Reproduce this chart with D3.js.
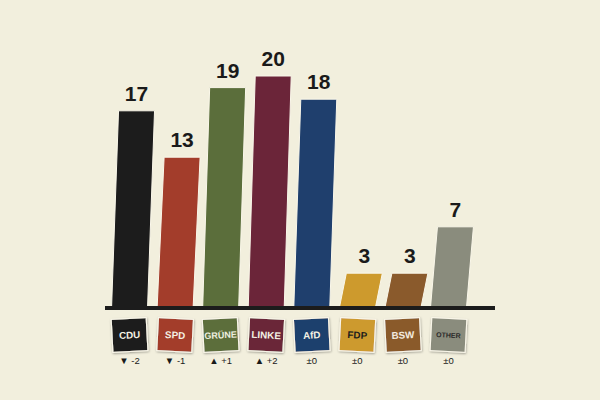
<!DOCTYPE html>
<html>
<head>
<meta charset="utf-8">
<script src="https://cdn.jsdelivr.net/npm/d3@7"></script>
<style>
  body { margin: 0; background: #f2efdd; }
  svg { display: block; }
</style>
</head>
<body>
<svg width="600" height="400"></svg>
<script>
// seats by party
var parties = ["CDU", "SPD", "GRÜNE", "LINKE", "AfD", "FDP", "BSW", "OTHER"];
var seats   = [17, 13, 19, 20, 18, 3, 3, 7];
var changes = ["▼ -2", "▼ -1", "▲ +1", "▲ +2", "±0", "±0", "±0", "±0"];
var colors  = ["#1c1c1c", "#a33d2b", "#5b6e3b", "#6b2539", "#1f3f6d", "#cd9a2d", "#8a5a2c", "#8a8c7d"];
var textColors = ["#f4f1e4", "#f4f1e4", "#eef0e0", "#f4f1e4", "#f4f1e4", "#1c1c1c", "#f4ece0", "#2a2a2a"];

var data = parties.map(function(p, i) {
  return { party: p, seats: seats[i], change: changes[i], color: colors[i], tc: textColors[i], i: i };
});

var svg = d3.select("svg");
var width = 600, height = 400;

svg.append("rect").attr("width", width).attr("height", height).attr("fill", "#f2efdd");

var x = d3.scaleBand().domain(parties).range([107, 471]).paddingInner(0.21).paddingOuter(0.1);
var y = d3.scaleLinear().domain([0, 20]).range([308, 76]);

var skew = 7; // tops lean to the right

var defs = svg.append("defs");
var f = defs.append("filter").attr("id", "shadow").attr("x", "-20%").attr("y", "-20%").attr("width", "140%").attr("height", "140%");
f.append("feDropShadow").attr("dx", 0.5).attr("dy", 1).attr("stdDeviation", 1).attr("flood-color", "#000").attr("flood-opacity", 0.35);

var gBars = svg.append("g");
gBars.selectAll("path")
  .data(data)
  .enter()
  .append("path")
  .attr("d", function(d) {
    var x0 = x(d.party), w = x.bandwidth(), y0 = y(0), y1 = y(d.seats);
    return "M" + x0 + "," + y0 + "L" + (x0 + skew) + "," + y1 + "L" + (x0 + w + skew) + "," + y1 + "L" + (x0 + w) + "," + y0 + "Z";
  })
  .attr("fill", function(d) { return d.color; })
  .attr("stroke", "#faf7ea")
  .attr("stroke-width", 1);

svg.append("g").selectAll("text")
  .data(data)
  .enter()
  .append("text")
  .attr("x", function(d) { return x(d.party) + x.bandwidth() / 2 + skew; })
  .attr("y", function(d) { return y(d.seats) - 10; })
  .attr("text-anchor", "middle")
  .style("font-family", "'Liberation Sans', Arial, sans-serif")
  .style("font-weight", "bold")
  .style("font-size", "21px")
  .attr("fill", "#1a1a1a")
  .text(function(d) { return d.seats; });

// baseline
svg.append("line")
  .attr("x1", 105).attr("x2", 495)
  .attr("y1", 308).attr("y2", 308)
  .attr("stroke", "#1c1c1c")
  .attr("stroke-width", 4);

// party label boxes
var gLab = svg.append("g").selectAll("g")
  .data(data)
  .enter()
  .append("g")
  .attr("transform", function(d) {
    var cx = x(d.party) + x.bandwidth() / 2;
    return "translate(" + cx + ",335) rotate(" + (d.i % 2 == 0 ? -3 : 3) + ")";
  });

gLab.append("rect")
  .attr("x", -17.5).attr("y", -16.5)
  .attr("width", 35).attr("height", 33)
  .attr("fill", function(d) { return d.color; })
  .attr("stroke", "#faf7ea")
  .attr("stroke-width", 1)
  .attr("filter", "url(#shadow)");

gLab.append("text")
  .attr("text-anchor", "middle")
  .attr("dy", "0.36em")
  .style("font-family", "'Liberation Sans', Arial, sans-serif")
  .style("font-weight", "bold")
  .style("font-size", function(d) { return d.party == "OTHER" ? "7px" : (d.party == "GRÜNE" ? "9px" : "9.8px"); })
  .attr("fill", function(d) { return d.tc; })
  .text(function(d) { return d.party; });

// change vs. last time
svg.append("g").selectAll("text")
  .data(data)
  .enter()
  .append("text")
  .attr("x", function(d) { return x(d.party) + x.bandwidth() / 2; })
  .attr("y", 364)
  .attr("text-anchor", "middle")
  .style("font-family", "'Liberation Sans', Arial, sans-serif")
  .style("font-size", "9.5px")
  .attr("fill", "#1a1a1a")
  .text(function(d) { return d.change; });
</script>
</body>
</html>
